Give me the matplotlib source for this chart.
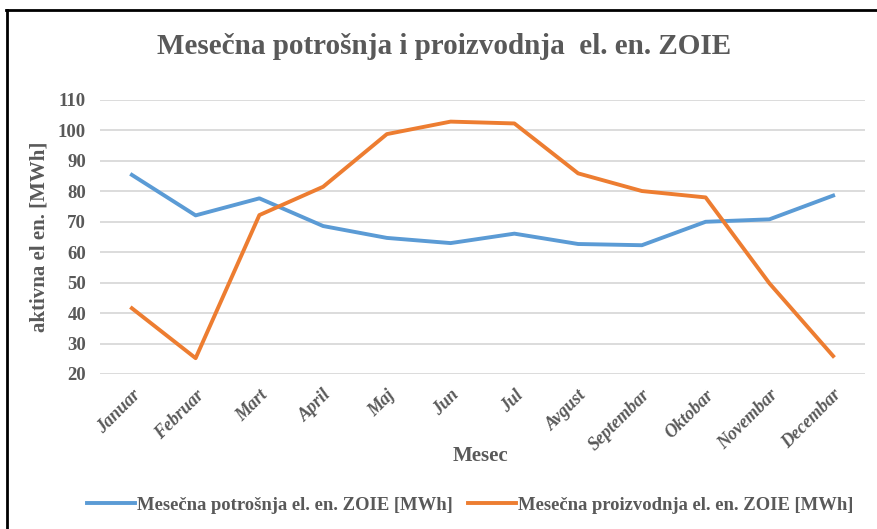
import matplotlib.pyplot as plt
from matplotlib.lines import Line2D

# ── data ────
months = ["Januar", "Februar", "Mart", "April", "Maj", "Jun", "Jul",
          "Avgust", "Septembar", "Oktobar", "Novembar", "Decembar"]
potrosnja = [85.4, 72.1, 77.7, 68.6, 64.7, 63.0, 66.1, 62.7, 62.3, 70.0, 70.8, 78.6]
proizvodnja = [41.6, 25.2, 72.2, 81.5, 98.8, 102.9, 102.3, 85.9, 80.1, 78.0, 49.8, 25.9]

BLUE = "#5B9BD5"
ORANGE = "#ED7D31"
TEXT = "#595959"
GRID = "#D9D9D9"

plt.rcParams["font.family"] = ["Liberation Serif", "DejaVu Serif"]

fig = plt.figure(figsize=(8.78, 5.29), dpi=100)
ax = fig.add_axes([100 / 878, 1 - 374 / 529, 765 / 878, 274 / 529])

x = list(range(len(months)))
ax.plot(x, potrosnja, color=BLUE, linewidth=2.8, solid_joinstyle="round",
        label="Mesečna potrošnja el. en. ZOIE [MWh]")
ax.plot(x, proizvodnja, color=ORANGE, linewidth=2.8, solid_joinstyle="round",
        label="Mesečna proizvodnja el. en. ZOIE [MWh]")

ax.set_xlim(-0.5, len(months) - 0.5)
ax.set_ylim(20, 110)
ax.set_yticks(range(20, 111, 10))
ax.set_xticks(x)
ax.set_xticklabels(months, rotation=45, ha="right", rotation_mode="anchor",
                   fontsize=13, fontweight="bold", fontstyle="italic", color=TEXT)
for lbl in ax.get_yticklabels():
    lbl.set_fontsize(13.5)
    lbl.set_fontweight("bold")
    lbl.set_color(TEXT)
ax.tick_params(axis="both", length=0)
ax.tick_params(axis="x", pad=9)
ax.tick_params(axis="y", pad=10)

ax.grid(axis="y", color=GRID, linewidth=1.3)
ax.set_axisbelow(True)
for spine in ax.spines.values():
    spine.set_visible(False)

ax.set_ylabel("aktivna el en. [MWh]", fontsize=15, fontweight="bold",
              color=TEXT, labelpad=6)
fig.text(480 / 878, 1 - 456 / 529, "Mesec", fontsize=15, fontweight="bold",
         color=TEXT, ha="center", va="center")

fig.text(444 / 878, 1 - 47 / 529, "Mesečna potrošnja i proizvodnja  el. en. ZOIE",
         fontsize=21, fontweight="bold", color=TEXT, ha="center", va="center")

fig.legend(loc="center", bbox_to_anchor=(470 / 878, 1 - 505 / 529), ncol=2,
           frameon=False, handlelength=2.6, handletextpad=0.1,
           columnspacing=0.8, labelcolor=TEXT,
           prop={"weight": "bold", "size": 13.4})

# border frame
fig.add_artist(Line2D([6 / 878, 1], [1 - 10 / 529, 1 - 10 / 529],
                      transform=fig.transFigure, color="black", linewidth=2))
fig.add_artist(Line2D([7 / 878, 7 / 878], [0, 1 - 10 / 529],
                      transform=fig.transFigure, color="black", linewidth=2))

fig.savefig("out.png", dpi=100)
